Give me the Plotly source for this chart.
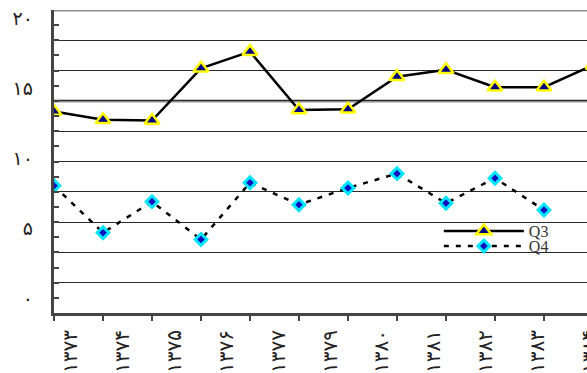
import plotly.graph_objects as go

# Years shown under the x axis (Persian calendar) and y-axis label text
year_labels = ["۱۳۷۳", "۱۳۷۴", "۱۳۷۵", "۱۳۷۶", "۱۳۷۷", "۱۳۷۹",
               "۱۳۸۰", "۱۳۸۱", "۱۳۸۲", "۱۳۸۳", "۱۳۸۴"]
y_tick_values = [0, 5, 10, 15, 20]
y_tick_text = ["۰", "۵", "۱۰", "۱۵", "۲۰"]

# Series values per period (12 periods)
periods = list(range(12))
q3 = [13.3, 12.75, 12.7, 16.15, 17.25, 13.4, 13.45, 15.6, 16.05, 14.9, 14.9, 16.35]
q4 = [8.4, 5.3, 7.35, 4.85, 8.6, 7.15, 8.25, 9.2, 7.25, 8.9, 6.8, None]

AXIS = "#444444"
GRID = "#2a2a2a"
X_LABEL_FONT = dict(family="DejaVu Sans", size=20, color="#222222")
Y_LABEL_FONT = dict(family="DejaVu Sans", size=19, color="#222222")
LEGEND_FONT = dict(family="Liberation Serif", size=16, color="#333333")

fig = go.Figure()

fig.add_trace(go.Scatter(
    x=periods, y=q3, name="Q3", mode="lines+markers",
    line=dict(color="black", width=2.5),
    marker=dict(symbol="triangle-up", size=13, color="#000080",
                line=dict(color="#ffff00", width=2.5)),
    legend="legend",
))
fig.add_trace(go.Scatter(
    x=periods, y=q4, name="Q4", mode="lines+markers",
    line=dict(color="black", width=2.5, dash="5px,7px"),
    marker=dict(symbol="diamond", size=9, color="#1010c0",
                line=dict(color="#00e5ff", width=3)),
    legend="legend2",
))
# Empty trace so the label axes (x2 / y2) get drawn
fig.add_trace(go.Scatter(x=[None], y=[None], xaxis="x2", yaxis="y2",
                         showlegend=False, hoverinfo="skip"))

# Heavier grey rules at the top of the scale and at 14
for level in (20, 14):
    fig.add_shape(type="line", xref="x domain", x0=0, x1=1, yref="y", y0=level, y1=level,
                  line=dict(color="#8f8f8f", width=3), layer="below")

# White backdrop behind the legend
fig.add_shape(type="rect", xref="x domain", yref="y domain",
              x0=0.664, x1=1.0, y0=0.168, y1=0.32,
              fillcolor="white", line=dict(width=0), layer="below")

fig.update_layout(
    width=587, height=373,
    margin=dict(l=54, r=0, t=10, b=60, autoexpand=False),
    paper_bgcolor="white", plot_bgcolor="white",
    showlegend=True,
    legend=dict(x=0.722, y=0.2706, xanchor="left", yanchor="middle",
                bgcolor="rgba(0,0,0,0)", itemwidth=80, font=LEGEND_FONT),
    legend2=dict(x=0.722, y=0.221, xanchor="left", yanchor="middle",
                 bgcolor="rgba(0,0,0,0)", itemwidth=80, font=LEGEND_FONT),
    xaxis=dict(
        range=[0, 10.878], showgrid=False, zeroline=False, automargin=False,
        showline=True, linecolor=AXIS, linewidth=2.5,
        tickmode="array", tickvals=periods, ticks="outside", ticklen=5,
        tickcolor=AXIS, tickwidth=1.5, showticklabels=False,
    ),
    xaxis2=dict(
        overlaying="x", anchor="y", side="bottom", automargin=False,
        range=[-0.212, 10.077], showgrid=False, zeroline=False, showline=False,
        tickmode="array", tickvals=list(range(len(year_labels))), ticktext=year_labels,
        tickangle=-90, ticks="", ticklabelstandoff=12, ticklabelshift=6,
        ticklabeloverflow="allow", tickfont=X_LABEL_FONT,
    ),
    yaxis=dict(
        range=[0, 20], zeroline=False, automargin=False,
        showgrid=True, gridcolor=GRID, gridwidth=1.3, dtick=2, tick0=0,
        showline=True, linecolor=AXIS, linewidth=2.5,
        ticks="inside", ticklen=5, tickcolor=AXIS, tickwidth=1.5,
        minor=dict(dtick=1, ticks="inside", ticklen=5, tickcolor=AXIS, showgrid=False),
        showticklabels=False,
    ),
    yaxis2=dict(
        overlaying="y", anchor="x", side="left", automargin=False,
        range=[-1.07, 20.57], showgrid=False, zeroline=False, showline=False,
        tickmode="array", tickvals=y_tick_values, ticktext=y_tick_text,
        ticks="", ticklabelstandoff=20, tickfont=Y_LABEL_FONT,
    ),
)

fig.write_html("out.html")
